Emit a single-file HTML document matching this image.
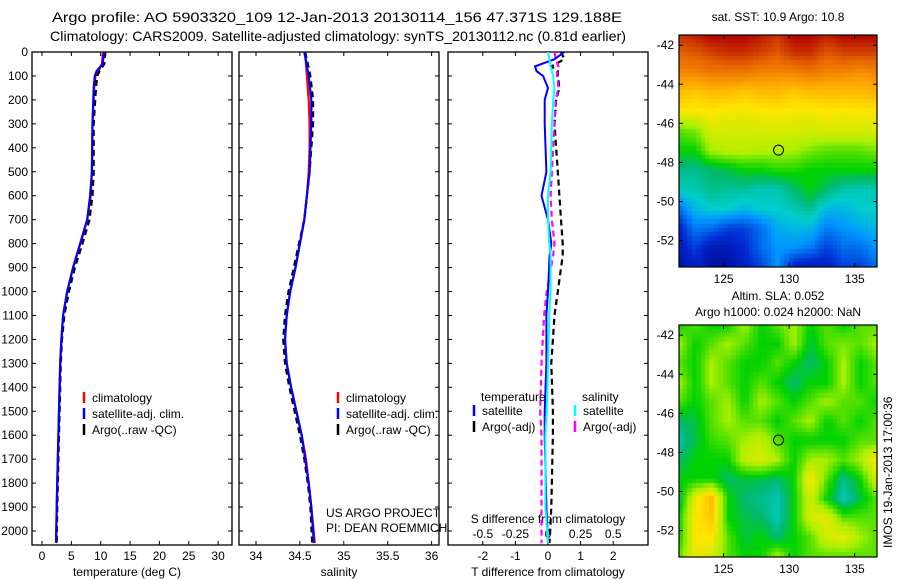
<!DOCTYPE html>
<html><head><meta charset="utf-8"><style>
body{margin:0;background:#fff;}
svg{display:block;font-family:"Liberation Sans",sans-serif;}
text{font-size:12px;fill:#000;}
.t{font-size:14px;}
</style></head><body>
<div style="position:relative;width:900px;height:580px">
<svg id="s" width="900" height="580">
<text class="t" x="52" y="22" textLength="570" lengthAdjust="spacingAndGlyphs">Argo profile: AO 5903320_109 12-Jan-2013 20130114_156 47.371S 129.188E</text>
<text class="t" x="50" y="41" textLength="576" lengthAdjust="spacingAndGlyphs">Climatology: CARS2009. Satellite-adjusted climatology: synTS_20130112.nc (0.81d earlier)</text>
<text x="778" y="21" text-anchor="middle">sat. SST: 10.9 Argo: 10.8</text>
<text x="778" y="300" text-anchor="middle">Altim. SLA: 0.052</text>
<text x="778" y="316" text-anchor="middle">Argo h1000: 0.024 h2000: NaN</text>
<text x="0" y="0" transform="translate(892,548) rotate(-90)">IMOS 19-Jan-2013 17:00:36</text>
</svg>
<canvas id="c1" width="198" height="232" style="position:absolute;left:679px;top:35px"></canvas>
<canvas id="c2" width="198" height="232" style="position:absolute;left:679px;top:325px"></canvas>
<svg id="ov" width="900" height="580" style="position:absolute;left:0;top:0"></svg>
</div>
<script>
// ---- profile data ----
const pT=[0,50,80,100,150,300,500,600,700,800,900,1000,1100,1200,1300,1500,1700,1900,2050];
const tempClim=[10.4,10.2,9.6,9.1,8.9,8.6,8.5,8.3,7.7,6.5,5.3,4.3,3.6,3.3,3.1,2.9,2.7,2.5,2.4];
const tempSat=[10.6,10.3,9.3,9.0,8.8,8.6,8.5,8.2,7.7,6.5,5.3,4.3,3.6,3.3,3.1,2.9,2.7,2.5,2.4];
const tempArgo=[10.8,10.6,9.8,9.4,9.2,8.8,8.8,8.6,8.1,6.9,5.6,4.6,3.8,3.4,3.2,3.0,2.8,2.6,2.5];
const pS=[0,100,200,300,400,500,600,700,800,900,1000,1100,1200,1300,1400,1500,1600,1700,1800,1900,2050];
const salClim=[34.56,34.58,34.6,34.61,34.61,34.6,34.58,34.55,34.5,34.45,34.39,34.35,34.33,34.35,34.4,34.46,34.52,34.57,34.6,34.63,34.67];
const salSat=[34.55,34.6,34.63,34.63,34.62,34.61,34.58,34.55,34.5,34.45,34.39,34.35,34.33,34.35,34.4,34.46,34.52,34.56,34.6,34.63,34.66];
const salArgo=[34.56,34.62,34.65,34.65,34.63,34.61,34.58,34.55,34.49,34.43,34.37,34.33,34.31,34.33,34.38,34.44,34.5,34.55,34.59,34.62,34.64];
const pD=[0,30,60,80,100,150,200,300,500,600,700,800,850,1000,1100,1300,1500,1600,1900,2050];
const dTsat=[0.5,0.2,-0.4,-0.35,-0.15,0,-0.1,-0.1,-0.05,-0.2,0,0.1,0.05,0,-0.05,-0.05,-0.1,-0.1,-0.05,0];
const dTargo=[0.4,0.5,0.1,0.3,0.3,0.35,0.25,0.2,0.3,0.35,0.4,0.45,0.45,0.3,0.2,0.1,0.15,0.15,0.1,0.05];
const dSsat=[0,0.01,0.02,0.03,0.04,0.05,0.04,0.03,0.02,0,0,0.01,0.02,0.02,0.01,0,-0.01,-0.02,-0.02,0];
const dSargo=[0.05,0.06,0.08,0.07,0.07,0.08,0.06,0.05,0.03,0.02,0.03,0.05,0.04,-0.01,-0.03,-0.05,-0.06,-0.05,-0.05,-0.05];
const pTicks=[0,100,200,300,400,500,600,700,800,900,1000,1100,1200,1300,1400,1500,1600,1700,1800,1900,2000];
const tTicks=[0,5,10,15,20,25,30];
const sTicks=[34,34.5,35,35.5,36];
const dTTicks=[-2,-1,0,1,2];
const dSTicks=[-0.5,-0.25,0,0.25,0.5];
// ---- map grids (colormap index 0..1) ----
const sstGrid=[
[.9,.92,.95,.95,.95,.93,.9,.95,.95,.92,.95,.95,.95],
[.85,.86,.88,.9,.9,.88,.86,.9,.9,.86,.88,.88,.88],
[.8,.8,.82,.82,.82,.8,.8,.8,.82,.8,.8,.78,.8],
[.72,.7,.72,.72,.7,.72,.72,.7,.72,.72,.72,.72,.74],
[.65,.64,.65,.63,.63,.64,.65,.64,.63,.65,.64,.65,.65],
[.5,.52,.6,.6,.6,.6,.6,.6,.6,.6,.6,.6,.6],
[.45,.45,.55,.57,.57,.56,.56,.55,.52,.5,.5,.5,.52],
[.38,.38,.4,.42,.45,.45,.47,.47,.45,.45,.45,.45,.45],
[.35,.35,.38,.37,.37,.35,.35,.4,.45,.4,.36,.35,.35],
[.2,.3,.33,.33,.3,.33,.33,.35,.38,.3,.3,.33,.33],
[.1,.22,.2,.15,.15,.2,.28,.3,.3,.22,.25,.28,.3],
[.08,.15,.08,.08,.12,.2,.25,.25,.22,.15,.2,.2,.25],
[.05,.1,.05,.05,.1,.15,.25,.1,.08,.1,.15,.15,.2]];
const slaGrid=[
[.45,.5,.45,.45,.55,.45,.5,.55,.45,.5,.45,.5,.5],
[.55,.45,.5,.55,.5,.45,.45,.55,.42,.5,.52,.5,.55],
[.5,.45,.55,.5,.45,.45,.5,.45,.4,.45,.55,.45,.5],
[.55,.45,.55,.5,.45,.5,.45,.4,.45,.45,.55,.45,.5],
[.5,.45,.5,.55,.45,.55,.5,.45,.5,.55,.5,.5,.45],
[.4,.42,.5,.55,.5,.5,.45,.5,.55,.45,.5,.45,.5],
[.35,.42,.48,.5,.55,.58,.5,.45,.45,.45,.45,.5,.5],
[.4,.45,.45,.45,.58,.6,.55,.45,.55,.55,.5,.55,.65],
[.45,.45,.45,.4,.42,.42,.4,.45,.65,.5,.38,.45,.6],
[.4,.62,.72,.45,.4,.38,.35,.45,.6,.45,.35,.42,.5],
[.45,.65,.7,.45,.42,.4,.35,.45,.6,.62,.5,.5,.5],
[.45,.65,.65,.5,.42,.45,.4,.45,.5,.6,.62,.55,.5],
[.5,.62,.6,.5,.45,.45,.55,.45,.5,.5,.5,.5,.5]];
const latTicks=[-42,-44,-46,-48,-50,-52];
const lonTicks=[125,130,135];
const argoPos=[129.19,-47.37];

const NS='http://www.w3.org/2000/svg';
const S=document.getElementById('s'), OV=document.getElementById('ov');
function el(p,t,a,txt){const e=document.createElementNS(NS,t);for(const k in a)e.setAttribute(k,a[k]);if(txt!==undefined)e.textContent=txt;p.appendChild(e);return e;}
const Y0=52,YB=545;
const yP=p=>Y0+p*0.2395;
function panel(x0,x1,name){
  const r=el(S,'rect',{x:x0,y:Y0,width:x1-x0,height:YB-Y0,fill:'none',stroke:'#000','stroke-width':1.3});
  
  
  pTicks.forEach(p=>{el(S,'line',{x1:x0,x2:x0+4,y1:yP(p),y2:yP(p),stroke:'#000'});el(S,'line',{x1:x1,x2:x1-4,y1:yP(p),y2:yP(p),stroke:'#000'});});
}
function line(xs,ps,fx,col,dash,w,name){
  const d=xs.map((v,i)=>(i?'L':'M')+fx(v).toFixed(1)+','+yP(ps[i]).toFixed(1)).join('');
  const e=el(S,'path',{d:d,fill:'none',stroke:col,'stroke-width':w||2.2});
  if(dash)e.setAttribute('stroke-dasharray',dash);
  
  
}
function xticks(ticks,fx,y,ty){ticks.forEach(t=>{const x=fx(t);el(S,'line',{x1:x,x2:x,y1:YB,y2:YB-4,stroke:'#000'});el(S,'line',{x1:x,x2:x,y1:Y0,y2:Y0+4,stroke:'#000'});el(S,'text',{x:x,y:ty,'text-anchor':'middle'},String(t));});}
function legend(x,y,items){items.forEach((it,i)=>{const yy=y+i*16;el(S,'line',{x1:x,x2:x,y1:yy-10,y2:yy+1,stroke:it[1],'stroke-width':2.5});el(S,'text',{x:x+8,y:yy},it[0]);});}

// panel 1 temperature
const xT=v=>42+v*5.87;
panel(32,232,'temperature-panel');
pTicks.forEach(p=>el(S,'text',{x:28,y:yP(p)+4,'text-anchor':'end'},String(p)));
xticks(tTicks,xT,YB,560);
el(S,'text',{x:127,y:576,'text-anchor':'middle'},'temperature (deg C)');
line(tempClim,pT,xT,'#f00',null,2.2,'temp-climatology-line');
line(tempArgo,pT,xT,'#000','6,4',2.2,'temp-argo-line');
line(tempSat,pT,xT,'#00f',null,2.2,'temp-satellite-line');
legend(84,402,[['climatology','#f00'],['satellite-adj. clim.','#00f'],['Argo(..raw -QC)','#000']]);

// panel 2 salinity
const xS=v=>256+(v-34)*87.8;
panel(239,439,'salinity-panel');
xticks(sTicks,xS,YB,560);
el(S,'text',{x:339,y:576,'text-anchor':'middle'},'salinity');
line(salClim,pS,xS,'#f00',null,2.2,'sal-climatology-line');
line(salArgo,pS,xS,'#000','6,4',2.2,'sal-argo-line');
line(salSat,pS,xS,'#00f',null,2.2,'sal-satellite-line');
legend(338,402,[['climatology','#f00'],['satellite-adj. clim.','#00f'],['Argo(..raw -QC)','#000']]);
el(S,'text',{x:326,y:517},'US ARGO PROJECT');
el(S,'text',{x:326,y:532},'PI: DEAN ROEMMICH');

// panel 3 differences
const xD=v=>548+v*32.6;
const xDS=v=>548+v*4*32.6;
panel(448,648,'difference-panel');
xticks(dTTicks,xD,YB,560);
dSTicks.forEach(t=>el(S,'text',{x:xDS(t),y:538,'text-anchor':'middle'},String(t)));
el(S,'text',{x:548,y:576,'text-anchor':'middle'},'T difference from climatology');
el(S,'text',{x:548,y:523,'text-anchor':'middle'},'S difference from climatology');
line(dTargo,pD,xD,'#000','6,4',2.2,'tdiff-argo-line');
line(dSargo,pD,xDS,'#f0f','6,4',2.2,'sdiff-argo-line');
line(dTsat,pD,xD,'#00f',null,2,'tdiff-satellite-line');
line(dSsat,pD,xDS,'#0ff',null,2,'sdiff-satellite-line');
el(S,'text',{x:481,y:401},'temperature');
el(S,'text',{x:582,y:401},'salinity');
legend(474,415,[['satellite','#00f'],['Argo(-adj)','#000']]);
legend(575,415,[['satellite','#0ff'],['Argo(-adj)','#f0f']]);

// maps
const cmapStops=[0,0.12,0.25,0.33,0.4,0.45,0.55,0.65,0.75,0.85,0.95,1];
const cmapCols=[[0,0,130],[0,40,210],[0,150,255],[0,205,205],[0,185,110],[0,210,0],[170,240,0],[255,230,0],[255,170,0],[230,100,0],[175,0,0],[150,0,0]];
function cmap(v){v=Math.max(0,Math.min(1,v));let k=0;while(k<cmapStops.length-2&&v>cmapStops[k+1])k++;const f=(v-cmapStops[k])/(cmapStops[k+1]-cmapStops[k]);const a=cmapCols[k],b=cmapCols[k+1];return 'rgb('+a.map((x,i)=>Math.round(x+(b[i]-x)*f)).join(',')+')';}
const LON0=121.6,LON1=136.7,LAT0=-41.48,LAT1=-53.35;
function drawMap(id,grid){
  const ctx=document.getElementById(id).getContext('2d');
  const nx=45,ny=54,W=198,H=232,R=grid.length,C=grid[0].length;
  for(let j=0;j<ny;j++)for(let i=0;i<nx;i++){
    const gy=(j+0.5)/ny*(R-1),gx=(i+0.5)/nx*(C-1);
    const y0=Math.floor(gy),x0=Math.floor(gx),y1=Math.min(R-1,y0+1),x1=Math.min(C-1,x0+1),fy=gy-y0,fx=gx-x0;
    const v=grid[y0][x0]*(1-fx)*(1-fy)+grid[y0][x1]*fx*(1-fy)+grid[y1][x0]*(1-fx)*fy+grid[y1][x1]*fx*fy;
    ctx.fillStyle=cmap(v);
    ctx.fillRect(Math.floor(i*W/nx),Math.floor(j*H/ny),Math.ceil(W/nx)+1,Math.ceil(H/ny)+1);
  }
}
drawMap('c1',sstGrid);drawMap('c2',slaGrid);
function mapAxes(top,name){
  const xL=679,W=198,H=232;
  const fx=l=>xL+(l-LON0)/(LON1-LON0)*W, fy=a=>top+(a-LAT0)/(LAT1-LAT0)*H;
  const r=el(OV,'rect',{x:xL,y:top,width:W,height:H,fill:'none',stroke:'#000','stroke-width':1.2});
  
  
  latTicks.forEach(a=>{el(OV,'line',{x1:xL,x2:xL+4,y1:fy(a),y2:fy(a),stroke:'#000'});el(OV,'line',{x1:xL+W,x2:xL+W-4,y1:fy(a),y2:fy(a),stroke:'#000'});el(OV,'text',{x:674,y:fy(a)+4,'text-anchor':'end'},String(a));});
  lonTicks.forEach(l=>{el(OV,'line',{x1:fx(l),x2:fx(l),y1:top,y2:top+4,stroke:'#000'});el(OV,'line',{x1:fx(l),x2:fx(l),y1:top+H,y2:top+H-4,stroke:'#000'});el(OV,'text',{x:fx(l),y:top+H+16,'text-anchor':'middle'},String(l));});
  const c=el(OV,'circle',{cx:fx(argoPos[0]),cy:fy(argoPos[1]),r:5,fill:'none',stroke:'#000'});
  
  
}
mapAxes(35,'sst-map-frame');mapAxes(325,'sla-map-frame');
</script>
</body></html>
